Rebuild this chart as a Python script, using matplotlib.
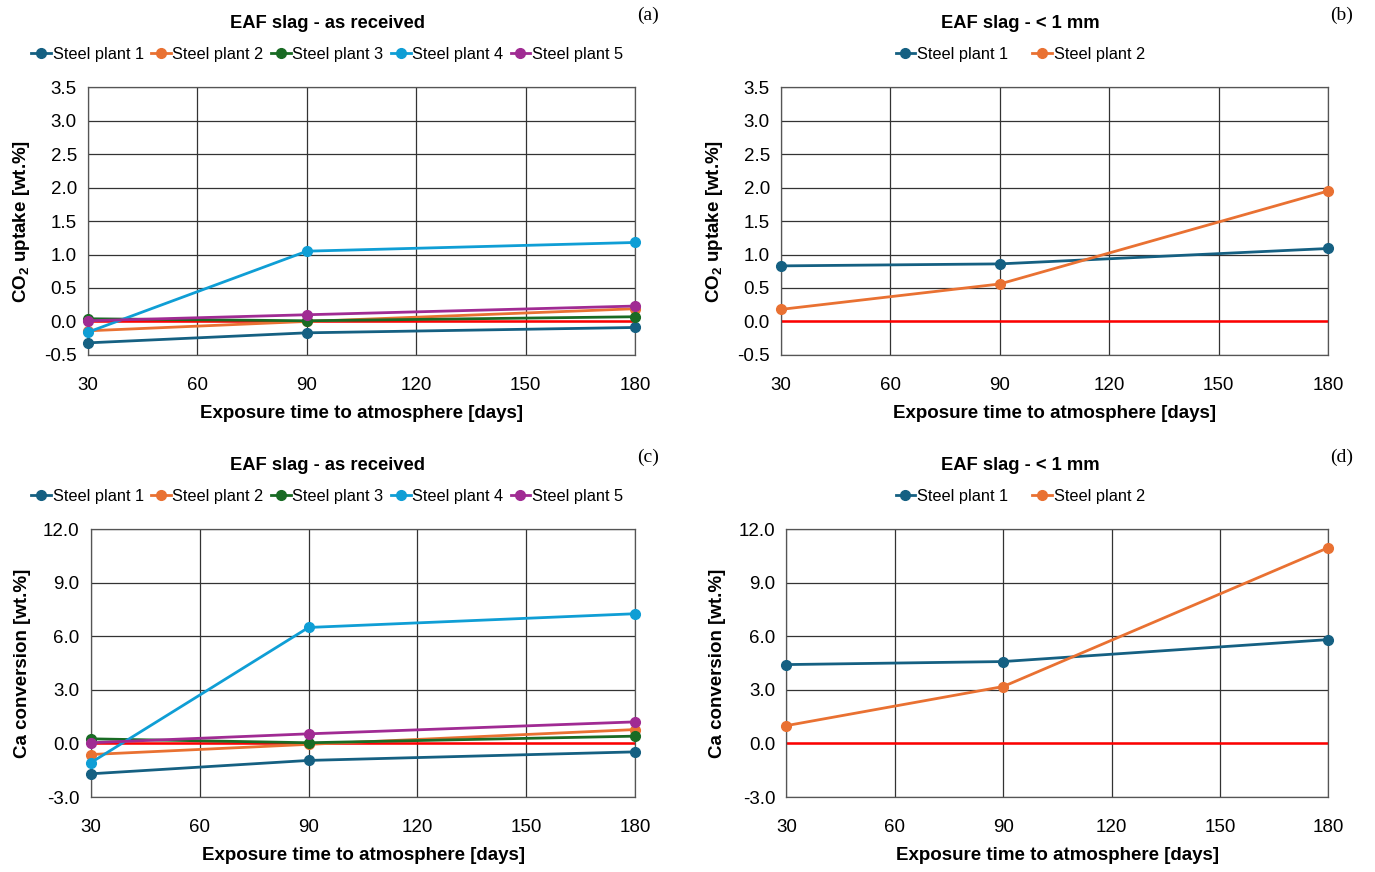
import matplotlib.pyplot as plt
import numpy as np

plt.rcParams['font.family'] = ['Liberation Sans', 'DejaVu Sans']
plt.rcParams['mathtext.fontset'] = 'custom'
plt.rcParams['mathtext.rm'] = 'Liberation Sans'
plt.rcParams['mathtext.bf'] = 'Liberation Sans:bold'

# exposure time, days
days = [30, 90, 180]
plants = ['Steel plant 1', 'Steel plant 2', 'Steel plant 3', 'Steel plant 4', 'Steel plant 5']
colors = ['#156082', '#E97132', '#196B24', '#0F9ED5', '#A02B93']

# (a) CO2 uptake, as received [wt.%]
co2_received = [[-0.32, -0.17, -0.09],
                [-0.14, 0.00, 0.19],
                [0.04, 0.01, 0.07],
                [-0.16, 1.05, 1.18],
                [0.01, 0.10, 0.23]]
# (b) CO2 uptake, < 1 mm
co2_fine = [[0.83, 0.86, 1.09],
            [0.18, 0.56, 1.95]]
# (c) Ca conversion, as received
ca_received = [[-1.70, -0.95, -0.47],
               [-0.62, -0.05, 0.78],
               [0.26, 0.04, 0.41],
               [-1.08, 6.50, 7.27],
               [0.04, 0.54, 1.21]]
# (d) Ca conversion, < 1 mm
ca_fine = [[4.42, 4.59, 5.82],
           [1.00, 3.19, 10.97]]

fig = plt.figure(figsize=(13.75, 8.72), dpi=100)

panels = [
    ([0.064, 0.593, 0.398, 0.307], co2_received, 'EAF slag - as received', '(a)', 'co2', 0.238, 0.45),
    ([0.568, 0.593, 0.398, 0.307], co2_fine, 'EAF slag - < 1 mm', '(b)', 'co2', 0.742, 1.5),
    ([0.066, 0.086, 0.396, 0.307], ca_received, 'EAF slag - as received', '(c)', 'ca', 0.238, 0.45),
    ([0.572, 0.086, 0.394, 0.307], ca_fine, 'EAF slag - < 1 mm', '(d)', 'ca', 0.742, 1.5),
]

for rect, data, title, tag, kind, cx, colsp in panels:
    ax = fig.add_axes(rect)
    ax.plot(days, [0, 0, 0], color='#FF0000', lw=1.8, zorder=2)
    handles = []
    for i, vals in enumerate(data):
        h, = ax.plot(days, vals, color=colors[i], lw=2, marker='o', ms=7,
                     label=plants[i], zorder=3 + i, clip_on=False)
        handles.append(h)
    ax.set_xlim(30, 180)
    ax.set_xticks([30, 60, 90, 120, 150, 180])
    if kind == 'co2':
        ax.set_ylim(-0.5, 3.5)
        ax.set_yticks(np.arange(-0.5, 3.51, 0.5))
        ax.set_yticklabels(['%.1f' % v for v in np.arange(-0.5, 3.51, 0.5)])
        ax.set_ylabel(r'CO$_{\mathbf{2}}$ uptake [wt.%]', fontsize=13.5, fontweight='bold', labelpad=9)
    else:
        ax.set_ylim(-3, 12)
        ax.set_yticks(np.arange(-3, 12.1, 3))
        ax.set_yticklabels(['%.1f' % v for v in np.arange(-3, 12.1, 3)])
        ax.set_ylabel('Ca conversion [wt.%]', fontsize=13.5, fontweight='bold', labelpad=9)
    ax.set_xlabel('Exposure time to atmosphere [days]', fontsize=13.5, fontweight='bold', labelpad=8)
    ax.grid(True, color='#333333', lw=0.9)
    ax.set_axisbelow(True)
    for s in ax.spines.values():
        s.set_color('#555555')
        s.set_linewidth(0.9)
    ax.tick_params(length=0, labelsize=13.5, pad=8)
    ax.tick_params(axis='x', pad=16)
    top = rect[1] + rect[3]
    fig.text(cx, top + 0.073, title, ha='center', va='center', fontsize=13.2, fontweight='bold')
    fig.legend(handles=handles, loc='center', bbox_to_anchor=(cx, top + 0.038), ncol=len(handles),
               frameon=False, fontsize=11.8, handlelength=1.2, handletextpad=0.1,
               columnspacing=colsp, borderaxespad=0)
    fig.text(rect[0] + rect[2] + 0.0015, top + 0.082, tag, ha='left', va='center',
             fontsize=14, family='Liberation Serif')

fig.savefig('out.png', dpi=100)
